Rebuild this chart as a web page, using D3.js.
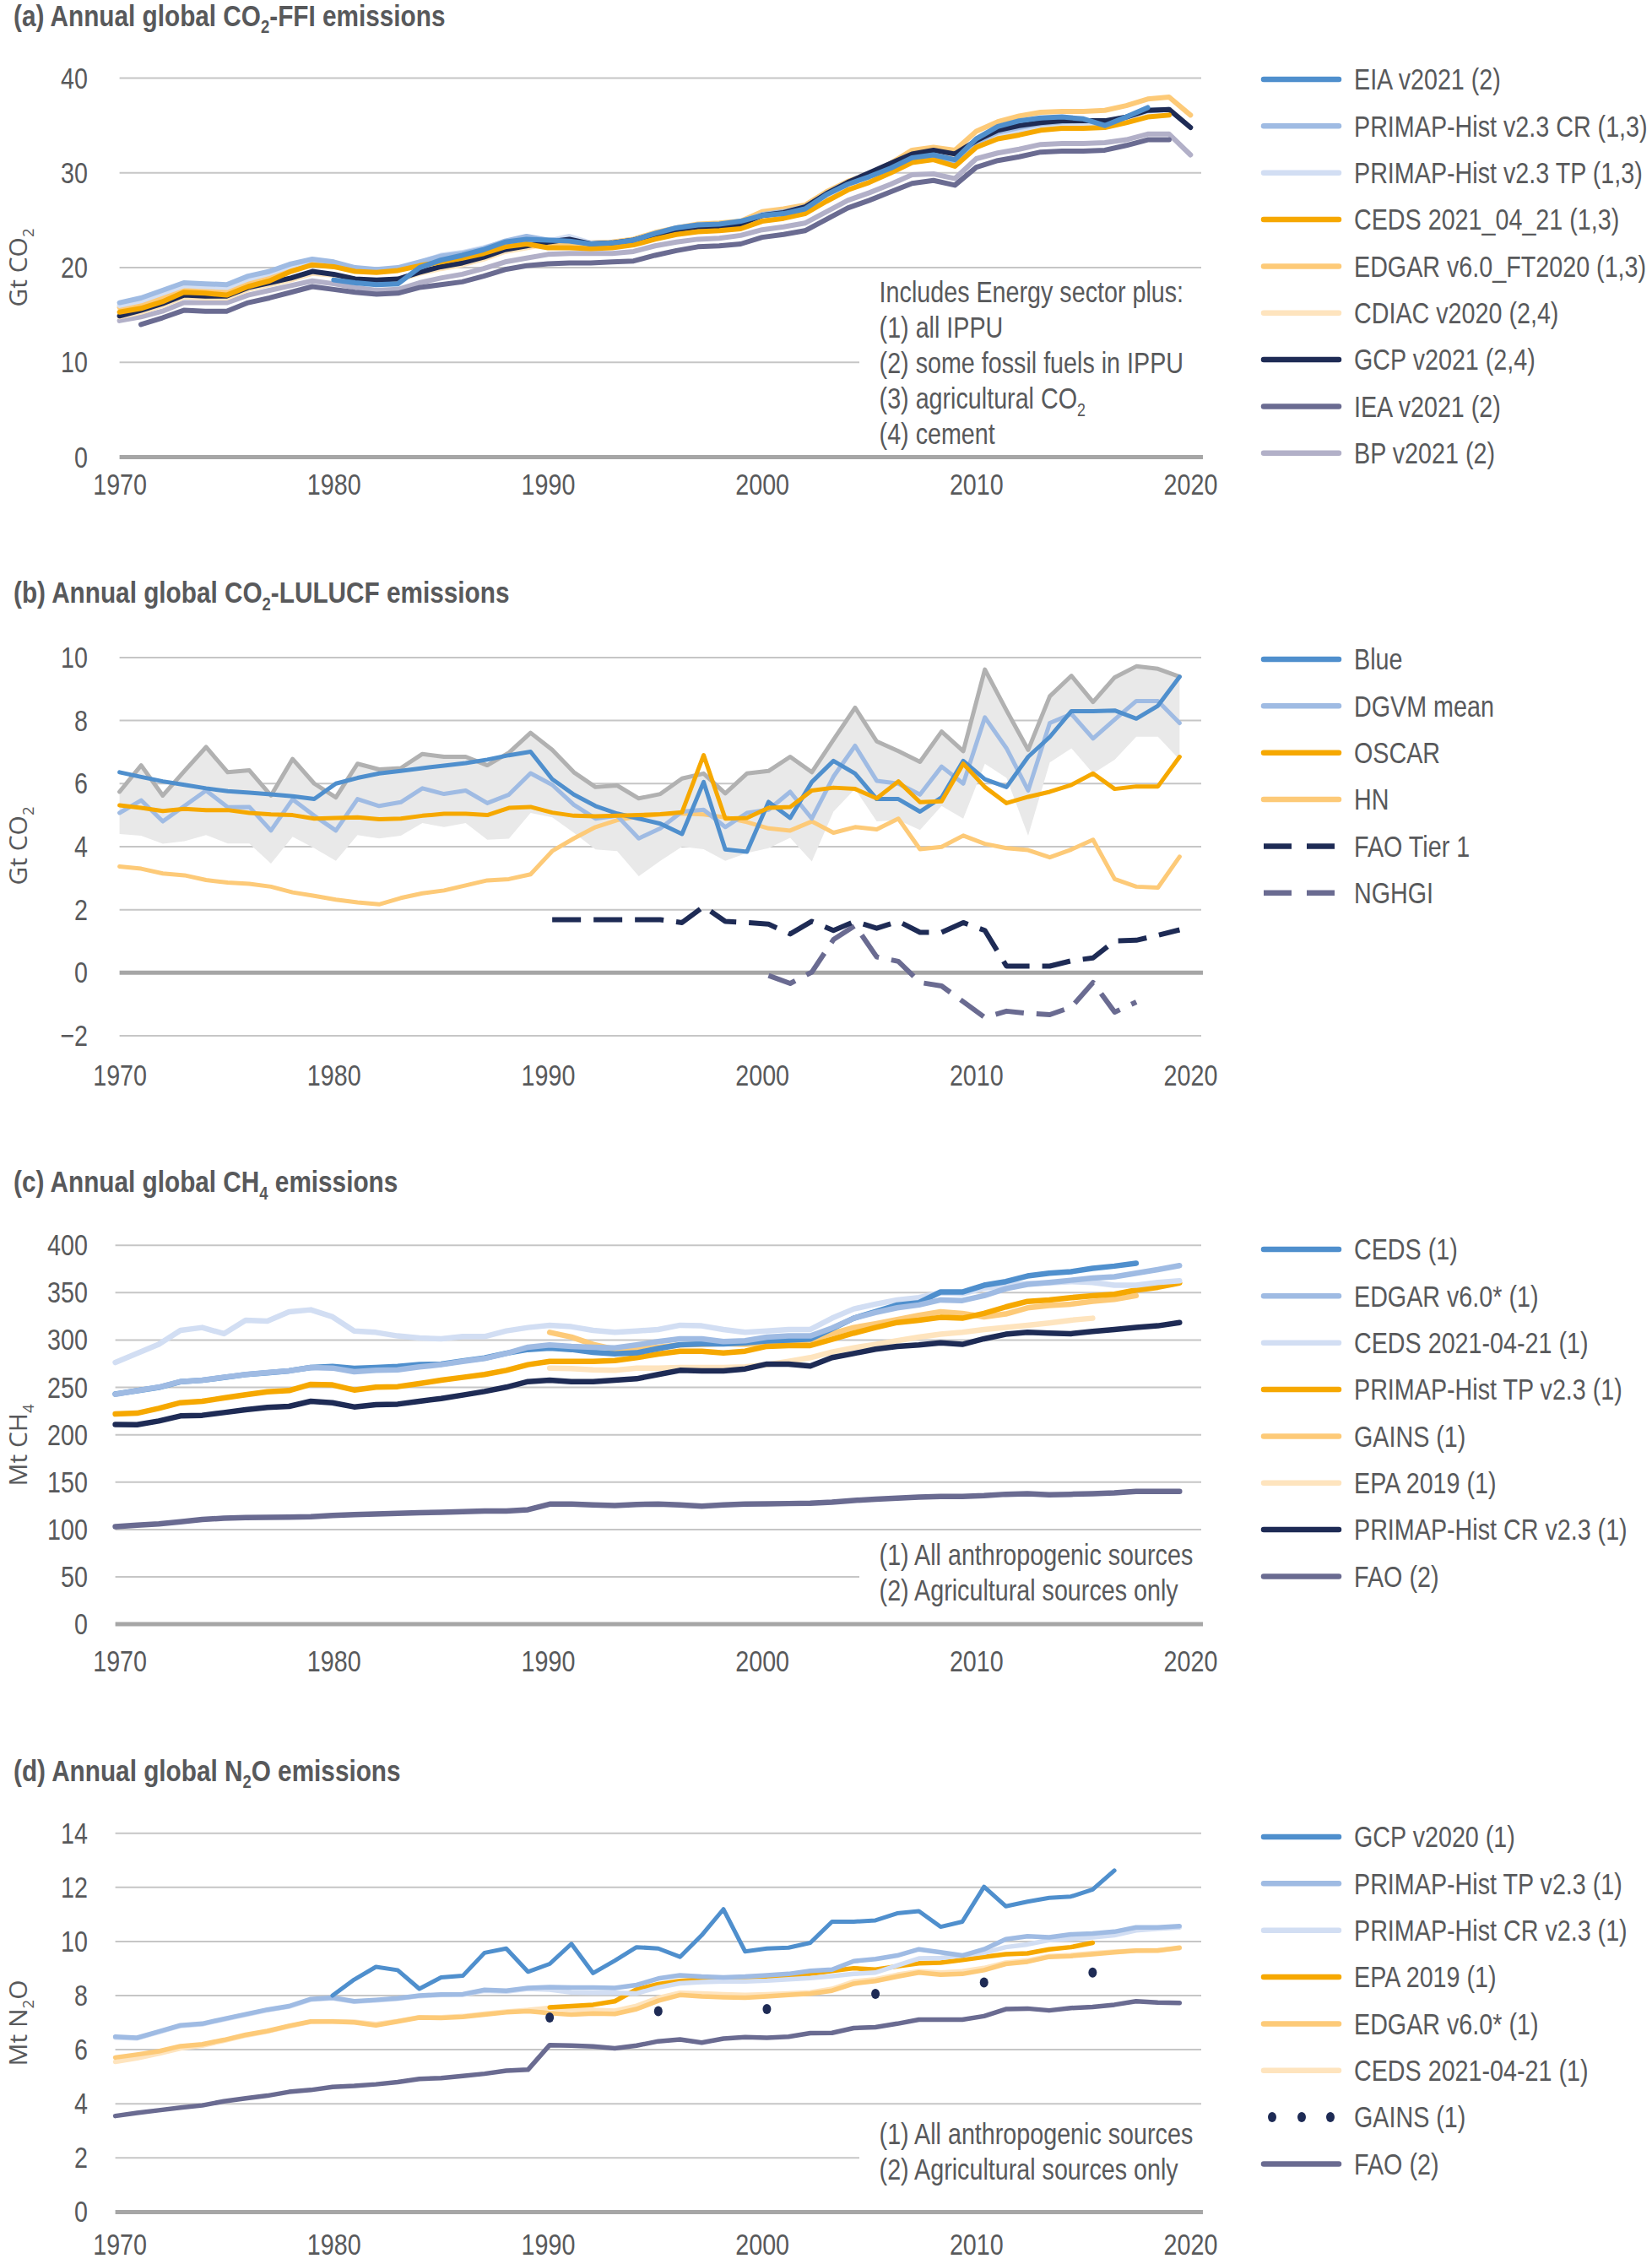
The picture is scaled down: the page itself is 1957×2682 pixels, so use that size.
<!DOCTYPE html>
<html>
<head>
<meta charset="utf-8">
<script src="https://cdn.jsdelivr.net/npm/d3@7"></script>
<style>
body { margin: 0; background: #fff; }
svg text { fill: #58595b; }
.narrow { font-family: "Liberation Sans", Arial, sans-serif; }
.wide { font-family: "Open Sans", "Noto Sans", sans-serif; }
</style>
</head>
<body>
<svg id="chart" width="1957" height="2682"></svg>
<script>
// ---- tick labels ----
const xTickYears = [1970, 1980, 1990, 2000, 2010, 2020];
const aTicks = [0, 10, 20, 30, 40];
const bTicks = [-2, 0, 2, 4, 6, 8, 10];
const cTicks = [0, 50, 100, 150, 200, 250, 300, 350, 400];
const dTicks = [0, 2, 4, 6, 8, 10, 12, 14];

// ---- (a) CO2-FFI, Gt CO2 ----
const aEIA = [18.7, 18.4, 18.2, 18.3, 20.0, 20.8, 21.3, 21.9, 22.7, 23.0, 22.9, 22.8, 22.5, 22.6, 22.9, 23.6, 24.2, 24.5, 24.6, 24.9, 25.5, 25.7, 26.2, 27.7, 28.8, 29.6, 30.5, 31.6, 31.9, 31.4, 33.6, 34.9, 35.5, 35.8, 35.9, 35.7, 35.0, 35.9, 36.9]; // 1980-2018
const aPrimapCR = [16.3, 16.8, 17.6, 18.4, 18.3, 18.2, 19.1, 19.6, 20.4, 20.9, 20.6, 20.0, 19.8, 20.0, 20.6, 21.2, 21.5, 22.0, 22.8, 23.3, 22.9, 22.9, 22.5, 22.6, 22.9, 23.6, 24.2, 24.5, 24.5, 24.8, 25.6, 25.9, 26.4, 27.8, 29.0, 29.8, 30.6, 31.5, 31.8, 31.2, 33.2, 34.3, 34.8, 35.2, 35.4, 35.5, 35.4, 35.9, 36.6, 36.7]; // 1970-2019
const aPrimapTP = [16.0, 16.5, 17.3, 18.1, 18.0, 17.9, 18.8, 19.4, 20.2, 20.7, 20.4, 19.8, 19.6, 19.8, 20.5, 21.3, 21.6, 22.1, 22.7, 23.0, 22.8, 23.3, 22.6, 22.6, 22.8, 23.4, 24.0, 24.3, 24.4, 24.7, 25.4, 25.7, 26.2, 27.6, 28.8, 29.6, 30.4, 31.2, 31.5, 31.0, 32.9, 34.0, 34.4, 34.7, 34.9, 35.0, 35.2, 35.8, 36.5, 36.7]; // 1970-2019
const aCEDS = [15.3, 15.7, 16.4, 17.4, 17.3, 17.1, 18.0, 18.6, 19.6, 20.3, 20.1, 19.6, 19.5, 19.7, 20.2, 20.6, 21.0, 21.5, 22.2, 22.5, 22.1, 22.1, 22.0, 22.1, 22.4, 23.0, 23.5, 23.8, 23.9, 24.1, 24.9, 25.2, 25.7, 27.0, 28.2, 29.0, 30.0, 31.1, 31.4, 30.7, 32.7, 33.6, 34.0, 34.5, 34.7, 34.7, 34.8, 35.3, 35.9, 36.1]; // 1970-2019
const aEDGAR = [15.8, 16.2, 16.9, 17.8, 17.7, 17.6, 18.5, 19.1, 20.0, 20.6, 20.3, 19.8, 19.6, 19.8, 20.4, 20.9, 21.3, 21.9, 22.5, 22.8, 22.6, 22.6, 22.6, 22.7, 23.0, 23.7, 24.2, 24.6, 24.7, 24.9, 25.9, 26.2, 26.6, 28.0, 29.1, 29.9, 31.0, 32.4, 32.7, 32.4, 34.4, 35.4, 36.0, 36.4, 36.5, 36.5, 36.6, 37.1, 37.8, 38.0, 36.1]; // 1970-2020
const aCDIAC = [14.8, 15.3, 16.0, 16.9, 16.8, 16.8, 17.7, 18.2, 18.7, 19.4, 19.2, 18.7, 18.6, 18.7, 19.4, 19.9, 20.3, 20.9, 21.7, 22.1, 22.5, 22.8, 22.3, 22.4, 22.7, 23.3, 23.8, 24.1, 24.1, 24.4, 25.3, 25.6, 26.2, 27.6, 28.8, 29.8, 30.8, 31.8, 32.2, 31.8, 33.2, 34.3, 34.8, 35.1, 35.3, 35.3, 35.3, 35.7]; // 1970-2017
const aGCP = [14.9, 15.5, 16.2, 17.1, 17.0, 17.0, 17.9, 18.4, 18.9, 19.6, 19.3, 18.8, 18.7, 18.8, 19.5, 20.1, 20.5, 21.1, 21.9, 22.3, 22.7, 23.0, 22.5, 22.6, 22.9, 23.5, 24.0, 24.3, 24.3, 24.6, 25.5, 25.8, 26.4, 27.8, 29.0, 30.0, 31.0, 32.0, 32.4, 32.0, 33.4, 34.5, 35.0, 35.3, 35.5, 35.5, 35.5, 35.9, 36.6, 36.7, 34.8]; // 1970-2020
const aIEA = [14.0, 14.7, 15.5, 15.4, 15.4, 16.3, 16.8, 17.4, 18.0, 17.7, 17.4, 17.2, 17.3, 17.9, 18.2, 18.5, 19.1, 19.8, 20.2, 20.4, 20.5, 20.5, 20.6, 20.7, 21.3, 21.8, 22.2, 22.3, 22.5, 23.2, 23.5, 23.9, 25.1, 26.3, 27.1, 28.0, 28.9, 29.2, 28.7, 30.6, 31.3, 31.7, 32.2, 32.3, 32.3, 32.4, 32.9, 33.5, 33.5]; // 1971-2019
const aBP = [14.4, 14.8, 15.4, 16.3, 16.3, 16.3, 17.1, 17.6, 18.1, 18.6, 18.3, 17.9, 17.6, 17.7, 18.4, 18.9, 19.3, 19.9, 20.6, 21.0, 21.4, 21.5, 21.5, 21.5, 21.7, 22.3, 22.7, 23.0, 23.1, 23.4, 24.0, 24.3, 24.7, 25.9, 27.1, 27.9, 28.8, 29.8, 29.9, 29.4, 31.5, 32.1, 32.5, 33.0, 33.1, 33.1, 33.2, 33.5, 34.1, 34.1, 31.9]; // 1970-2020

// ---- (b) CO2-LULUCF, Gt CO2 ----
const bBlue = [6.36, 6.21, 6.07, 5.96, 5.85, 5.76, 5.71, 5.66, 5.60, 5.51, 6.00, 6.18, 6.32, 6.40, 6.49, 6.57, 6.65, 6.76, 6.90, 7.01, 6.14, 5.65, 5.29, 5.05, 4.89, 4.73, 4.40, 6.05, 3.91, 3.84, 5.42, 4.91, 6.05, 6.72, 6.32, 5.51, 5.51, 5.11, 5.56, 6.72, 6.14, 5.89, 6.85, 7.48, 8.30, 8.30, 8.32, 8.06, 8.47, 9.39]; // 1970-2019
const bDGVM = [5.07, 5.47, 4.80, 5.29, 5.78, 5.25, 5.26, 4.51, 5.50, 4.98, 4.51, 5.51, 5.29, 5.41, 5.85, 5.67, 5.78, 5.38, 5.65, 6.33, 5.96, 5.33, 4.89, 4.98, 4.26, 4.58, 5.11, 5.17, 4.62, 5.07, 5.17, 5.74, 4.89, 6.22, 7.20, 6.09, 6.00, 5.65, 6.54, 6.00, 8.10, 7.12, 5.78, 7.92, 8.21, 7.43, 8.03, 8.62, 8.62, 7.92];
const bDGVMmax = [5.74, 6.58, 5.62, 6.40, 7.16, 6.36, 6.42, 5.62, 6.78, 6.00, 5.56, 6.63, 6.45, 6.49, 6.94, 6.85, 6.85, 6.58, 6.98, 7.61, 7.07, 6.36, 5.89, 5.94, 5.53, 5.67, 6.16, 6.32, 5.69, 6.32, 6.40, 6.85, 6.36, 7.39, 8.41, 7.34, 7.03, 6.69, 7.65, 7.03, 9.62, 8.32, 7.07, 8.77, 9.42, 8.59, 9.37, 9.72, 9.64, 9.39];
const bDGVMmin = [4.40, 4.35, 4.09, 4.17, 4.37, 4.10, 4.10, 3.46, 4.31, 3.95, 3.55, 4.37, 4.26, 4.35, 4.75, 4.62, 4.75, 4.22, 4.25, 5.07, 4.93, 4.44, 3.91, 3.86, 3.06, 3.55, 4.00, 3.92, 3.55, 3.80, 3.95, 4.28, 3.53, 5.11, 5.83, 4.80, 4.84, 4.53, 5.29, 4.89, 6.63, 6.18, 4.35, 6.67, 7.12, 6.32, 6.76, 7.49, 7.49, 6.76];
const bOSCAR = [5.31, 5.23, 5.13, 5.20, 5.16, 5.16, 5.07, 5.02, 5.00, 4.89, 4.91, 4.93, 4.87, 4.89, 4.98, 5.04, 5.04, 5.00, 5.23, 5.26, 5.08, 4.98, 4.96, 4.98, 5.00, 5.03, 5.09, 6.90, 4.89, 4.91, 5.23, 5.26, 5.78, 5.87, 5.83, 5.53, 6.07, 5.41, 5.44, 6.63, 5.89, 5.38, 5.58, 5.74, 5.96, 6.32, 5.83, 5.91, 5.91, 6.85];
const bHN = [3.37, 3.30, 3.15, 3.09, 2.94, 2.86, 2.82, 2.73, 2.55, 2.44, 2.32, 2.23, 2.17, 2.37, 2.52, 2.61, 2.77, 2.93, 2.97, 3.12, 3.86, 4.26, 4.62, 4.84, 4.96, 5.02, 5.05, 5.02, 4.93, 4.78, 4.58, 4.51, 4.80, 4.44, 4.62, 4.55, 4.89, 3.92, 3.99, 4.35, 4.09, 3.95, 3.89, 3.66, 3.91, 4.22, 2.97, 2.73, 2.70, 3.68];
const bFAO = [1.68, 1.68, 1.68, 1.68, 1.68, 1.68, 1.59, 2.10, 1.63, 1.59, 1.54, 1.23, 1.63, 1.34, 1.63, 1.41, 1.63, 1.28, 1.28, 1.59, 1.34, 0.21, 0.21, 0.21, 0.38, 0.47, 1.01, 1.03, 1.19, 1.36]; // 1990-2019
const bNGHGI = [-0.09, -0.34, 0.02, 1.05, 1.50, 0.50, 0.36, -0.31, -0.42, -0.92, -1.42, -1.22, -1.29, -1.33, -1.09, -0.31, -1.25, -0.93]; // 2000-2017

// ---- (c) CH4, Mt CH4 ----
const cCEDS = [243.0, 246.5, 250.0, 256.0, 257.5, 260.5, 263.5, 265.5, 267.5, 271.0, 272.0, 270.0, 271.0, 272.0, 274.0, 274.5, 278.0, 281.0, 286.0, 290.0, 291.5, 290.0, 287.0, 285.5, 286.5, 291.0, 295.0, 296.0, 296.0, 297.0, 299.0, 300.0, 301.0, 312.0, 323.0, 330.0, 337.0, 339.4, 350.7, 350.7, 357.8, 361.7, 367.6, 370.6, 372.1, 375.6, 378.0, 381.0]; // 1970-2017
const cEDGAR = [242.7, 246.6, 250.2, 256.1, 257.6, 260.6, 263.6, 265.6, 267.4, 271.0, 270.4, 266.5, 268.0, 268.6, 271.6, 274.0, 277.5, 280.5, 285.8, 292.4, 294.8, 293.3, 292.4, 291.8, 294.8, 298.3, 301.3, 301.3, 298.3, 299.2, 303.1, 304.3, 304.3, 312.6, 323.0, 329.0, 334.0, 337.0, 342.3, 341.7, 346.8, 354.2, 358.7, 360.8, 363.1, 365.5, 366.7, 370.6, 374.4, 378.6];
const cCEDS2021 = [276.3, 285.8, 295.4, 310.2, 313.2, 306.7, 320.9, 320.0, 329.8, 331.9, 324.5, 309.6, 308.1, 304.3, 302.2, 301.3, 303.7, 303.7, 309.6, 313.2, 315.6, 314.1, 310.2, 308.1, 309.6, 311.1, 315.6, 315.0, 311.1, 308.1, 309.6, 311.1, 311.1, 323.0, 332.8, 337.9, 342.3, 344.7, 349.8, 348.9, 354.8, 357.8, 359.6, 360.2, 361.7, 360.8, 357.8, 357.8, 360.8, 362.5];
const cPrimapTP = [221.9, 222.8, 227.9, 233.8, 235.3, 238.9, 242.2, 245.4, 246.6, 253.2, 252.6, 247.2, 250.2, 250.8, 254.0, 257.6, 260.6, 263.6, 268.0, 274.0, 277.5, 277.5, 277.5, 278.4, 281.4, 285.3, 288.2, 288.2, 286.4, 288.2, 293.3, 294.2, 294.2, 300.7, 307.3, 313.2, 318.5, 320.9, 323.9, 323.0, 328.1, 334.9, 340.8, 342.3, 344.7, 346.8, 348.3, 352.7, 355.7, 360.2];
const cGAINS = [308.1, 303.1, 295.4, 290.3, 290.3, 292.4, 294.8, 295.4, 296.3, 295.4, 296.3, 297.7, 300.1, 306.7, 313.2, 317.1, 321.5, 326.0, 329.8, 328.1, 324.5, 327.5, 334.0, 336.4, 337.9, 340.8, 342.9, 346.8]; // 1990-2017
const cEPA = [270.4, 269.8, 268.6, 268.0, 270.4, 270.4, 271.0, 271.0, 271.0, 271.6, 274.0, 277.5, 281.4, 287.3, 291.8, 295.4, 299.2, 303.1, 306.1, 308.1, 311.1, 313.2, 315.6, 318.0, 320.9, 323.0]; // 1990-2015
const cPrimapCR = [210.9, 210.6, 214.5, 219.9, 220.5, 223.4, 226.4, 228.8, 230.0, 235.3, 233.8, 229.4, 231.7, 232.3, 235.3, 238.3, 241.9, 245.7, 250.2, 256.1, 257.6, 256.1, 256.1, 257.6, 259.1, 263.6, 268.0, 267.4, 267.4, 269.5, 274.6, 274.6, 272.5, 281.4, 285.8, 290.3, 293.3, 294.8, 297.1, 295.4, 301.3, 306.1, 308.1, 307.3, 306.7, 309.0, 311.1, 313.2, 315.0, 318.5];
const cFAO = [103.0, 104.5, 106.0, 108.1, 110.5, 112.0, 112.6, 112.8, 113.1, 113.4, 114.9, 115.8, 116.4, 117.0, 117.6, 118.2, 118.8, 119.4, 119.4, 120.9, 126.8, 126.8, 125.9, 125.3, 126.5, 126.8, 125.9, 124.7, 125.9, 126.8, 127.1, 127.4, 127.7, 128.9, 130.7, 131.9, 133.1, 134.2, 134.8, 134.8, 135.7, 137.2, 137.8, 136.6, 137.2, 137.8, 138.7, 140.2, 140.2, 140.2];

// ---- (d) N2O, Mt N2O ----
const dGCP = [8.00, 8.59, 9.06, 8.94, 8.25, 8.67, 8.73, 9.58, 9.74, 8.88, 9.17, 9.91, 8.83, 9.29, 9.79, 9.74, 9.43, 10.23, 11.19, 9.63, 9.74, 9.77, 9.95, 10.73, 10.73, 10.78, 11.04, 11.12, 10.54, 10.73, 12.02, 11.30, 11.47, 11.61, 11.66, 11.92, 12.62]; // 1980-2016
const dPrimapTP = [6.48, 6.44, 6.67, 6.90, 6.96, 7.14, 7.31, 7.48, 7.61, 7.87, 7.92, 7.79, 7.84, 7.90, 8.00, 8.04, 8.05, 8.21, 8.18, 8.28, 8.31, 8.30, 8.30, 8.28, 8.39, 8.63, 8.75, 8.70, 8.67, 8.70, 8.75, 8.80, 8.91, 8.96, 9.27, 9.35, 9.48, 9.71, 9.60, 9.48, 9.71, 10.08, 10.19, 10.15, 10.26, 10.29, 10.36, 10.52, 10.52, 10.57];
const dPrimapCR = [6.45, 6.42, 6.65, 6.88, 6.94, 7.12, 7.29, 7.46, 7.59, 7.85, 7.90, 7.77, 7.82, 7.88, 7.98, 8.02, 8.03, 8.18, 8.15, 8.25, 8.22, 8.12, 8.10, 8.10, 8.08, 8.30, 8.45, 8.50, 8.52, 8.52, 8.55, 8.60, 8.65, 8.72, 8.80, 8.85, 9.11, 9.37, 9.39, 9.48, 9.58, 9.79, 9.89, 10.05, 10.10, 10.15, 10.23, 10.41, 10.47, 10.52];
const dEPA = [7.56, 7.61, 7.66, 7.79, 8.23, 8.42, 8.54, 8.59, 8.65, 8.67, 8.70, 8.73, 8.80, 8.91, 9.01, 8.96, 9.08, 9.19, 9.22, 9.32, 9.43, 9.53, 9.56, 9.71, 9.79, 9.95]; // 1990-2015
const dEDGAR = [5.71, 5.82, 5.94, 6.13, 6.20, 6.36, 6.55, 6.69, 6.88, 7.04, 7.04, 7.01, 6.90, 7.04, 7.19, 7.17, 7.21, 7.30, 7.38, 7.42, 7.35, 7.30, 7.34, 7.32, 7.50, 7.81, 8.02, 7.97, 7.94, 7.92, 7.97, 8.02, 8.07, 8.18, 8.44, 8.54, 8.70, 8.85, 8.77, 8.80, 8.94, 9.17, 9.25, 9.43, 9.46, 9.53, 9.60, 9.66, 9.66, 9.77];
const dCEDS2021 = [5.55, 5.68, 5.85, 6.05, 6.15, 6.33, 6.52, 6.67, 6.86, 7.03, 7.05, 7.03, 6.95, 7.06, 7.20, 7.20, 7.24, 7.33, 7.41, 7.47, 7.55, 7.48, 7.47, 7.44, 7.62, 7.92, 8.10, 8.08, 8.05, 8.02, 8.05, 8.08, 8.12, 8.25, 8.52, 8.60, 8.77, 8.90, 8.85, 8.90, 9.02, 9.22, 9.30, 9.46, 9.50, 9.57, 9.62, 9.66, 9.68, 9.75];
const dGainsYears = [1990, 1995, 2000, 2005, 2010, 2015];
const dGAINS = [7.19, 7.42, 7.50, 8.06, 8.48, 8.85];
const dFAO = [3.55, 3.66, 3.76, 3.86, 3.94, 4.09, 4.20, 4.30, 4.44, 4.51, 4.62, 4.66, 4.72, 4.80, 4.92, 4.95, 5.03, 5.11, 5.22, 5.26, 6.17, 6.15, 6.12, 6.05, 6.15, 6.31, 6.38, 6.26, 6.41, 6.46, 6.44, 6.48, 6.61, 6.62, 6.80, 6.83, 6.96, 7.11, 7.11, 7.11, 7.24, 7.50, 7.52, 7.45, 7.54, 7.58, 7.66, 7.79, 7.74, 7.73];

const col = {
  blue: "#4f8fcd", lightBlue: "#9fbbe3", paleBlue: "#d2def3",
  orange: "#f6a800", lightOrange: "#fdca78", paleOrange: "#fee4be",
  navy: "#1e2b55", slate: "#6a6b91", lilac: "#b2b0c8",
  dgvmLine: "#b1b1b1", band: "#e9e9e9", grid: "#c6c6c6", axis: "#a6a6a6"
};

function ser(start, values) { return values.map((v, i) => ({ year: start + i, value: v })); }

const panels = [
  {
    title: [["(a) Annual global CO"], ["2", 1], ["-FFI emissions"]],
    ytitle: [["Gt CO"], ["2", 1]],
    yDomain: [0, 40], yRange: [541.5, 92.6], yTicks: aTicks,
    x0: 141.6, xEnd: 2020.5, titleY: 30.6, labelY: 585.5, ytitleY: 317, legendTop: 94, sw: 6,
    series: [
      { name: "BP v2021 (2)", color: col.lilac, data: ser(1970, aBP), order: 8 },
      { name: "IEA v2021 (2)", color: col.slate, data: ser(1971, aIEA), order: 7 },
      { name: "CDIAC v2020 (2,4)", color: col.paleOrange, data: ser(1970, aCDIAC), order: 5 },
      { name: "EDGAR v6.0_FT2020 (1,3)", color: col.lightOrange, data: ser(1970, aEDGAR), order: 4 },
      { name: "PRIMAP-Hist v2.3 TP (1,3)", color: col.paleBlue, data: ser(1970, aPrimapTP), order: 2 },
      { name: "PRIMAP-Hist v2.3 CR (1,3)", color: col.lightBlue, data: ser(1970, aPrimapCR), order: 1 },
      { name: "GCP v2021 (2,4)", color: col.navy, data: ser(1970, aGCP), order: 6 },
      { name: "CEDS 2021_04_21 (1,3)", color: col.orange, data: ser(1970, aCEDS), order: 3 },
      { name: "EIA v2021 (2)", color: col.blue, data: ser(1980, aEIA), order: 0 }
    ],
    notes: { box: [1018, 330, 407, 206], y0: 358, step: 42,
      lines: [[["Includes Energy sector plus:"]], [["(1) all IPPU"]], [["(2) some fossil fuels in IPPU"]], [["(3) agricultural CO"], ["2", 1]], [["(4) cement"]]] }
  },
  {
    title: [["(b) Annual global CO"], ["2", 1], ["-LULUCF emissions"]],
    ytitle: [["Gt CO"], ["2", 1]],
    yDomain: [-2, 10], yRange: [1227, 778.9], yTicks: bTicks,
    x0: 141.6, xEnd: 2020, titleY: 714.2, labelY: 1286.3, ytitleY: 1002, legendTop: 781, sw: 5,
    band: { lo: ser(1970, bDGVMmin), hi: ser(1970, bDGVMmax) },
    series: [
      { color: col.dgvmLine, data: ser(1970, bDGVMmax) },
      { name: "HN", color: col.lightOrange, data: ser(1970, bHN), order: 3 },
      { name: "DGVM mean", color: col.lightBlue, data: ser(1970, bDGVM), order: 1 },
      { name: "Blue", color: col.blue, data: ser(1970, bBlue), order: 0 },
      { name: "OSCAR", color: col.orange, data: ser(1970, bOSCAR), order: 2 },
      { name: "NGHGI", color: col.slate, data: ser(2000, bNGHGI), order: 5, dash: "34,15", w: 6 },
      { name: "FAO Tier 1", color: col.navy, data: ser(1990, bFAO), order: 4, dash: "34,15", w: 6 }
    ]
  },
  {
    title: [["(c) Annual global CH"], ["4", 1], [" emissions"]],
    ytitle: [["Mt CH"], ["4", 1]],
    yDomain: [0, 400], yRange: [1924.1, 1475.2], yTicks: cTicks,
    x0: 136.6, xEnd: 2020, titleY: 1412.2, labelY: 1980, ytitleY: 1712, legendTop: 1480, sw: 6.5,
    series: [
      { name: "FAO (2)", color: col.slate, data: ser(1970, cFAO), order: 7 },
      { name: "EPA 2019 (1)", color: col.paleOrange, data: ser(1990, cEPA), order: 5 },
      { name: "GAINS (1)", color: col.lightOrange, data: ser(1990, cGAINS), order: 4 },
      { name: "PRIMAP-Hist CR v2.3 (1)", color: col.navy, data: ser(1970, cPrimapCR), order: 6 },
      { name: "PRIMAP-Hist TP v2.3 (1)", color: col.orange, data: ser(1970, cPrimapTP), order: 3 },
      { name: "CEDS 2021-04-21 (1)", color: col.paleBlue, data: ser(1970, cCEDS2021), order: 2 },
      { name: "CEDS (1)", color: col.blue, data: ser(1970, cCEDS), order: 0 },
      { name: "EDGAR v6.0* (1)", color: col.lightBlue, data: ser(1970, cEDGAR), order: 1 }
    ],
    notes: { box: [1018, 1822, 407, 96], y0: 1854, step: 41.5,
      lines: [[["(1) All anthropogenic sources"]], [["(2) Agricultural sources only"]]] }
  },
  {
    title: [["(d) Annual global N"], ["2", 1], ["O emissions"]],
    ytitle: [["Mt N"], ["2", 1], ["O"]],
    yDomain: [0, 14], yRange: [2620.4, 2171.7], yTicks: dTicks,
    x0: 136.6, xEnd: 2020, titleY: 2109.7, labelY: 2670.8, ytitleY: 2396.5, legendTop: 2176, sw: 5.5,
    series: [
      { name: "FAO (2)", color: col.slate, data: ser(1970, dFAO), order: 7 },
      { name: "CEDS 2021-04-21 (1)", color: col.paleOrange, data: ser(1970, dCEDS2021), order: 5 },
      { name: "EDGAR v6.0* (1)", color: col.lightOrange, data: ser(1970, dEDGAR), order: 4 },
      { name: "EPA 2019 (1)", color: col.orange, data: ser(1990, dEPA), order: 3 },
      { name: "PRIMAP-Hist CR v2.3 (1)", color: col.paleBlue, data: ser(1970, dPrimapCR), order: 2 },
      { name: "PRIMAP-Hist TP v2.3 (1)", color: col.lightBlue, data: ser(1970, dPrimapTP), order: 1 },
      { name: "GCP v2020 (1)", color: col.blue, data: ser(1980, dGCP), order: 0, w: 5 },
      { name: "GAINS (1)", color: col.navy, dots: dGainsYears.map((yr, i) => ({ year: yr, value: dGAINS[i] })), order: 6 }
    ],
    notes: { box: [1018, 2508, 407, 106], y0: 2540, step: 41.5,
      lines: [[["(1) All anthropogenic sources"]], [["(2) Agricultural sources only"]]] }
  }
];

const svg = d3.select("#chart");
const gridRight = 1423;
const tickX = d3.scaleLinear([1970, 2020], [141.6, 1410]);
const FS = 35;
const SQ = 0.82; // horizontal squeeze to mimic the condensed face of the original

function rich(sel, parts, fs) {
  parts.forEach(([t, sub], i) => {
    const ts = sel.append("tspan").text(t);
    if (sub) ts.attr("font-size", fs * 0.62).attr("dy", fs * 0.25);
    else if (i > 0 && parts[i - 1][1]) ts.attr("dy", -fs * 0.25);
  });
}

// condensed text placed at (x, y)
function ntext(parent, x, y, fs, sq) {
  return parent.append("text").attr("class", "narrow").attr("font-size", fs)
    .attr("transform", `translate(${x},${y}) scale(${sq || SQ},1)`);
}

panels.forEach(p => {
  const g = svg.append("g");
  const x = d3.scaleLinear([1970, p.xEnd], [p.x0, gridRight]);
  const y = d3.scaleLinear(p.yDomain, p.yRange);

  // title
  rich(ntext(g, 16, p.titleY, 35, 0.85).attr("font-weight", "bold"), p.title, 35);

  // gridlines
  g.append("g").selectAll("line").data(p.yTicks.filter(v => v !== 0)).join("line")
    .attr("x1", p.x0).attr("x2", gridRight)
    .attr("y1", d => y(d)).attr("y2", d => y(d))
    .attr("stroke", col.grid).attr("stroke-width", 2);

  if (p.notes) {
    const [bx, by, bw, bh] = p.notes.box;
    g.append("rect").attr("x", bx).attr("y", by).attr("width", bw).attr("height", bh).attr("fill", "#fff");
  }

  if (p.band) {
    const area = d3.area().x(d => x(d.year)).y0((d, i) => y(p.band.lo[i].value)).y1(d => y(d.value));
    g.append("path").datum(p.band.hi).attr("d", area).attr("fill", col.band);
  }

  // zero line
  g.append("line").attr("x1", p.x0).attr("x2", gridRight + 2).attr("y1", y(0)).attr("y2", y(0))
    .attr("stroke", col.axis).attr("stroke-width", 5);

  const line = d3.line().x(d => x(d.year)).y(d => y(d.value));
  p.series.forEach(s => {
    if (s.dots) {
      g.append("g").selectAll("ellipse").data(s.dots).join("ellipse")
        .attr("cx", d => x(d.year)).attr("cy", d => y(d.value))
        .attr("rx", 5).attr("ry", 6).attr("fill", s.color);
      return;
    }
    g.append("path").datum(s.data).attr("d", line)
      .attr("fill", "none").attr("stroke", s.color)
      .attr("stroke-width", s.w || p.sw)
      .attr("stroke-linejoin", "round").attr("stroke-linecap", s.dash ? "butt" : "round")
      .attr("stroke-dasharray", s.dash || null);
  });

  // axes
  const yAxis = g.append("g").attr("transform", "translate(104,0)")
    .call(d3.axisLeft(y).tickValues(p.yTicks).tickSize(0).tickPadding(0).tickFormat(d3.format("d")));
  const xAxis = g.append("g").attr("transform", `translate(0,${p.labelY})`)
    .call(d3.axisBottom(tickX).tickValues(xTickYears).tickSize(0).tickPadding(0).tickFormat(d3.format("d")));
  [yAxis, xAxis].forEach(a => {
    a.select(".domain").remove();
    a.attr("font-family", null).attr("font-size", null);
    a.selectAll("text").attr("class", "narrow").attr("font-size", FS).attr("fill", "#58595b")
      .attr("transform", `scale(${SQ},1)`);
  });
  xAxis.selectAll("text").attr("dy", null).attr("y", 0);
  yAxis.selectAll("text").attr("dy", "0.33em");

  // y title
  rich(g.append("text").attr("class", "wide").attr("font-size", 30).attr("text-anchor", "middle")
    .attr("transform", `translate(32,${p.ytitleY}) rotate(-90)`), p.ytitle, 30);

  // notes
  if (p.notes) {
    p.notes.lines.forEach((ln, i) => {
      rich(ntext(g, 1041.6, p.notes.y0 + i * p.notes.step, FS), ln, FS);
    });
  }

  // legend
  const items = p.series.filter(s => s.name).sort((a, b) => a.order - b.order);
  const lg = g.append("g");
  items.forEach((s, i) => {
    const ly = p.legendTop + i * 55.35;
    if (s.dots) {
      lg.selectAll(null).data([1507, 1542, 1576]).join("ellipse")
        .attr("cx", d => d).attr("cy", ly).attr("rx", 5).attr("ry", 6).attr("fill", s.color);
    } else {
      lg.append("line").attr("x1", 1497).attr("x2", 1586).attr("y1", ly).attr("y2", ly)
        .attr("stroke", s.color).attr("stroke-width", 6.5)
        .attr("stroke-linecap", s.dash ? "butt" : "round")
        .attr("stroke-dasharray", s.dash ? "33,18" : null);
    }
    ntext(lg, 1604, ly, FS).attr("dy", "0.35em").text(s.name);
  });
});
</script>
</body>
</html>
